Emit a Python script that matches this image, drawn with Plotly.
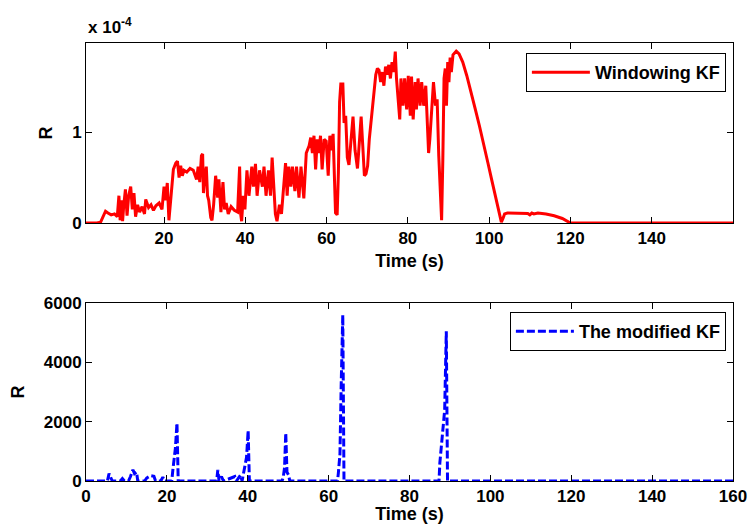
import plotly.graph_objects as go

# ---------------- data ----------------
# Windowing KF: time (s) and R (in units of 1e-4)
t_windowing = [
    0.8, 2.0, 3.5, 4.4, 5.0, 5.6, 6.2, 7.0, 7.8, 8.5,
    8.9, 9.2, 9.5, 9.8, 10.1, 10.5, 10.9, 11.3, 11.8, 12.2,
    12.6, 13.0, 13.5, 14.0, 14.6, 15.2, 15.5, 16.2, 16.8, 17.4,
    18.0, 18.8, 19.5, 20.0, 20.4, 20.8, 21.2, 21.8, 22.3, 22.9,
    23.3, 23.7, 24.1, 24.5, 24.9, 25.6, 26.4, 27.2, 28.0, 28.4,
    28.8, 29.2, 29.5, 29.7, 30.0, 30.4, 30.7, 31.0, 31.3, 31.5,
    31.8, 32.2, 32.7, 33.2, 33.5, 34.0, 34.5, 34.9, 35.3, 35.8,
    36.5, 37.3, 38.1, 38.6, 38.85, 39.1, 39.5, 39.9, 40.4, 40.9,
    41.6, 42.0, 42.5, 42.9, 43.5, 44.2, 44.6, 45.1, 45.7, 46.2,
    46.6, 47.0, 47.4, 47.8, 48.4, 48.9, 49.4, 49.9, 50.3, 50.7,
    51.2, 51.6, 52.2, 52.6, 53.2, 53.7, 54.4, 54.8, 55.0, 55.7,
    56.1, 56.5, 56.9, 57.3, 57.7, 58.1, 58.5, 58.9, 59.4, 59.9,
    60.4, 60.8, 61.2, 61.6, 62.2, 62.6, 62.9, 63.2, 63.5, 64.0,
    64.3, 64.7, 65.1, 65.5, 65.9, 66.5, 67.0, 67.6, 68.0, 68.5,
    68.9, 69.3, 69.7, 70.1, 70.5, 70.9, 71.3, 71.7, 72.1, 72.5,
    72.9, 73.3, 73.7, 74.1, 74.5, 74.9, 75.3, 75.7, 76.1, 76.5,
    76.9, 77.2, 77.6, 78.0, 78.3, 78.8, 79.2, 79.7, 80.1, 80.6,
    80.9, 81.3, 81.8, 82.1, 82.5, 83.0, 83.4, 83.9, 84.4, 84.8,
    85.1, 85.4, 85.9, 86.3, 86.8, 87.2, 87.6, 88.0, 88.3, 88.6,
    88.9, 89.2, 89.5, 89.8, 90.1, 90.4, 90.7, 91.1, 91.5, 91.9,
    92.6, 93.5, 94.5, 95.6, 96.6, 97.6, 98.6, 99.7, 100.7, 101.7,
    102.4, 103.0, 103.4, 103.8, 104.5, 106, 108, 109.5, 110.0, 110.5,
    111.0, 112, 114, 116, 118, 120, 122, 140, 160,
]
r_windowing_e4 = [
    0, 0, 0, 0.01, 0.08, 0.13, 0.11, 0.09, 0.10, 0.07,
    0.30, 0.03, 0.25, 0.02, 0.20, 0.37, 0.08, 0.30, 0.40, 0.15,
    0.33, 0.07, 0.20, 0.12, 0.18, 0.10, 0.26, 0.17, 0.20, 0.14,
    0.19, 0.22, 0.15, 0.40, 0.25, 0.44, 0.03, 0.35, 0.59, 0.66,
    0.68, 0.50, 0.63, 0.52, 0.58, 0.56, 0.60, 0.58, 0.48, 0.62,
    0.45, 0.74, 0.76, 0.33, 0.50, 0.62, 0.30, 0.25, 0.12, 0.06,
    0.03, 0.20, 0.52, 0.28, 0.48, 0.12, 0.45, 0.15, 0.22, 0.10,
    0.18, 0.14, 0.12, 0.62, 0.10, 0.02, 0.30, 0.15, 0.58, 0.30,
    0.62, 0.40, 0.65, 0.30, 0.58, 0.40, 0.62, 0.30, 0.58, 0.30,
    0.72, 0.45, 0.10, 0.02, 0.20, 0.10, 0.35, 0.66, 0.30, 0.62,
    0.40, 0.62, 0.35, 0.62, 0.28, 0.62, 0.27, 0.70, 0.77, 0.85,
    0.94, 0.77, 0.96, 0.59, 0.92, 0.77, 0.96, 0.59, 0.92, 0.90,
    0.52, 0.96, 0.80, 0.98, 0.11, 0.09, 0.55, 1.33, 1.53, 1.53,
    1.10, 1.18, 0.72, 0.64, 0.85, 1.17, 0.80, 0.60, 0.85, 1.17,
    0.85, 0.52, 0.54, 0.63, 0.92, 1.11, 1.29, 1.48, 1.63, 1.70,
    1.68, 1.55, 1.66, 1.51, 1.72, 1.63, 1.74, 1.59, 1.77, 1.66,
    1.885, 1.59, 1.37, 1.14, 1.59, 1.29, 1.59, 1.25, 1.62, 1.18,
    1.61, 1.14, 1.55, 1.25, 1.59, 1.29, 1.55, 1.29, 1.51, 1.07,
    0.77, 0.92, 1.29, 1.55, 1.29, 1.36, 0.74, 0.25, 0.03, 0.70,
    1.59, 1.70, 1.29, 1.77, 1.55, 1.82, 1.66, 1.85, 1.87, 1.89,
    1.86, 1.77, 1.62, 1.44, 1.25, 1.07, 0.86, 0.66, 0.46, 0.26,
    0.12, 0.01, 0.05, 0.10, 0.11, 0.11, 0.11, 0.105, 0.09, 0.11,
    0.10, 0.11, 0.10, 0.08, 0.05, 0.0, 0.0, 0, 0,
]
R_SCALE = 1e-4

# The modified KF: time (s) and R
t_modified = [
    0, 5.3, 5.7, 6.1, 6.5, 8.5, 9.0, 9.5, 10.5, 11.0,
    11.6, 12.0, 12.5, 12.8, 14.5, 15.0, 16.0, 16.8, 17.2, 18.5,
    19.0, 19.4, 21.2, 21.5, 21.8, 22.1, 22.5, 22.8, 32.3, 32.6,
    32.9, 33.5, 34.0, 36.8, 37.2, 38.2, 38.6, 39.2, 39.7, 40.1,
    40.4, 48.5, 48.8, 49.1, 49.4, 49.7, 50.1, 50.4, 62.2, 62.4,
    62.8, 63.1, 63.5, 63.8, 87.3, 87.5, 88.2, 88.7, 89.1, 89.4,
    160,
]
r_modified = [
    0, 0, 250, 100, 0, 0, 80, 0, 0, 150,
    380, 250, 300, 0, 0, 100, 180, 160, 0, 0,
    130, 0, 0, 400, 700, 1100, 1950, 0, 0, 370,
    0, 150, 0, 150, 0, 200, 0, 450, 800, 1700,
    0, 0, 150, 450, 1620, 300, 200, 0, 0, 260,
    900, 3200, 5600, 0, 0, 600, 1600, 2400, 5050, 0,
    0,
]

top_x_ticks = [20, 40, 60, 80, 100, 120, 140]
top_y_ticks = [0, 1e-4]
top_y_ticktext = ["0", "1"]
bottom_x_ticks = [0, 20, 40, 60, 80, 100, 120, 140, 160]
bottom_y_ticks = [0, 2000, 4000, 6000]

# ---------------- figure ----------------
FONT = "Liberation Sans, Arial, sans-serif"
tickf = dict(family=FONT, size=17, color="black", weight="bold")
titlef = dict(family=FONT, size=18, color="black", weight="bold")
legf = dict(family=FONT, size=18, color="black", weight="bold")

fig = go.Figure()
fig.add_trace(go.Scatter(
    x=t_windowing, y=[v * R_SCALE for v in r_windowing_e4],
    mode="lines", name="Windowing KF",
    line=dict(color="#FF0000", width=3),
    xaxis="x", yaxis="y", legend="legend",
))
fig.add_trace(go.Scatter(
    x=t_modified, y=r_modified,
    mode="lines", name="The modified KF",
    line=dict(color="#0000FF", width=3, dash="8px,3px"),
    xaxis="x2", yaxis="y2", legend="legend2",
))

axis_common = dict(
    showline=True, linecolor="black", linewidth=1, mirror="ticks",
    ticks="inside", ticklen=6, tickwidth=1, tickcolor="black",
    showgrid=False, zeroline=False, tickfont=tickf, automargin=False,
)

fig.update_layout(
    width=750, height=524,
    margin=dict(l=86, r=17, t=43, b=43, autoexpand=False),
    paper_bgcolor="white", plot_bgcolor="white",
    showlegend=True,
    xaxis=dict(domain=[0, 1], anchor="y", range=[0.8, 160],
               tickvals=top_x_ticks,
               title=dict(text="Time (s)", font=titlef, standoff=6),
               **axis_common),
    yaxis=dict(domain=[0.589, 1.0], anchor="x", range=[0, 1.98e-4],
               tickvals=top_y_ticks, ticktext=top_y_ticktext,
               title=dict(text="R", font=titlef, standoff=14),
               **axis_common),
    xaxis2=dict(domain=[0, 1], anchor="y2", range=[0, 160],
                tickvals=bottom_x_ticks,
                title=dict(text="Time (s)", font=titlef, standoff=4),
                **axis_common),
    yaxis2=dict(domain=[0, 0.4064], anchor="x2", range=[0, 6000],
                tickvals=bottom_y_ticks,
                title=dict(text="R", font=titlef, standoff=14),
                **axis_common),
    legend=dict(x=0.989, xanchor="right", y=0.977, yanchor="top",
                bordercolor="black", borderwidth=1, bgcolor="white",
                font=legf, itemwidth=58),
    legend2=dict(x=0.989, xanchor="right", y=0.386, yanchor="top",
                 bordercolor="black", borderwidth=1, bgcolor="white",
                 font=legf, itemwidth=58),
    annotations=[dict(
        text="x 10<sup>-4</sup>", xref="paper", yref="paper",
        x=0, y=1, xanchor="left", yanchor="bottom", yshift=4,
        showarrow=False, font=tickf,
    )],
)

fig.write_html(
    "out.html",
    config={"displayModeBar": False},
    post_script="document.body.style.margin='0';document.body.style.overflow='hidden';",
)
